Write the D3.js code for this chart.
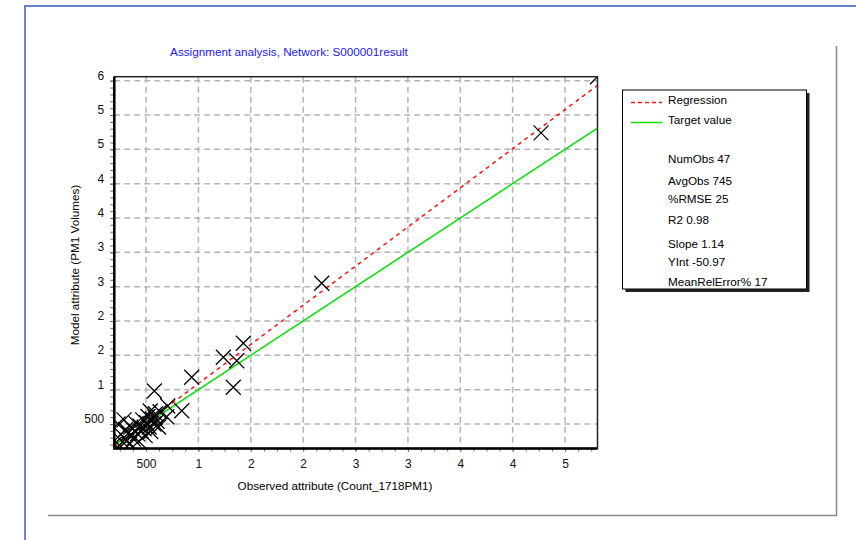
<!DOCTYPE html>
<html>
<head>
<meta charset="utf-8">
<script src="https://cdn.jsdelivr.net/npm/d3@7"></script>
<style>
  body { margin: 0; background: #fff; }
  svg { display: block; font-family: "Liberation Sans", Arial, sans-serif; }
</style>
</head>
<body>
<div id="chart"></div>
<script>
// observed / modelled volumes, one entry per observation
let obsValues = [
  4810, 4271, 2177, 1429, 1238, 1366, 1333, 936, 579, 841, 707, 697, 634, 586,
  197, 215, 232, 248, 260, 275, 290, 305, 318, 330, 342, 355, 368, 380, 392,
  405, 418, 430, 442, 455, 468, 480, 492, 505, 518, 530, 545, 560, 575, 590,
  605, 620, 540
]
let modelValues = [
  5558, 4740, 2549, 1675, 1471, 1422, 1034, 1180, 980, 693, 762, 606, 679, 597,
  205, 143, 500, 190, 350, 240, 560, 420, 260, 365, 205, 455, 330, 280, 400,
  505, 360, 250, 470, 395, 560, 430, 330, 520, 610, 455, 390, 575, 500, 650,
  540, 455, 690
]

let xTickValues = [500, 1000, 1500, 2000, 2500, 3000, 3500, 4000, 4500]
let xTickLabels = ['500', '1', '2', '2', '3', '3', '4', '4', '5']
let yTickValues = [500, 1000, 1500, 2000, 2500, 3000, 3500, 4000, 4500, 5000, 5500]
let yTickLabels = ['500', '1', '2', '2', '3', '3', '4', '4', '5', '5', '6']

let xDomain = [197, 4810]
let yDomain = [143, 5558]

let regSlope = 1.14
let regIntercept = -50.97

let legendItems = ['Regression', 'Target value']
let statLines = [
  'NumObs 47', 'AvgObs 745', '%RMSE 25', 'R2 0.98',
  'Slope 1.14', 'YInt -50.97', 'MeanRelError% 17'
]

let width = 856
let height = 540
let plot = { left: 114.3, right: 597.5, top: 76.7, bottom: 448.5 }
let fontSize = 11.7

let svg = d3.select('#chart')
  .append('svg')
  .attr('width', width)
  .attr('height', height)

// outer blue window border and grey panel edge
svg.append('rect')
  .attr('x', 25).attr('y', 6)
  .attr('width', 900).attr('height', 600)
  .attr('fill', 'none')
  .attr('stroke', '#6b80d2')
  .attr('stroke-width', 2)

svg.append('path')
  .attr('d', 'M48,515.5 H836.5 V46')
  .attr('fill', 'none')
  .attr('stroke', '#8a8a8a')
  .attr('stroke-width', 1.5)

svg.append('text')
  .attr('x', 289)
  .attr('y', 56)
  .attr('text-anchor', 'middle')
  .attr('font-size', fontSize)
  .attr('fill', '#2020f0')
  .text('Assignment analysis, Network: S000001result')

let xPositionScale = d3.scaleLinear().domain(xDomain).range([plot.left, plot.right])
let yPositionScale = d3.scaleLinear().domain(yDomain).range([plot.bottom, plot.top])

svg.append('clipPath')
  .attr('id', 'plot-clip')
  .append('rect')
  .attr('x', plot.left)
  .attr('y', plot.top)
  .attr('width', plot.right - plot.left)
  .attr('height', plot.bottom - plot.top)

// grid
let grid = svg.append('g')
  .attr('stroke', '#b4b4b4')
  .attr('stroke-width', 1.5)
  .attr('stroke-dasharray', '6,4')

grid.selectAll('.vgrid')
  .data(xTickValues)
  .enter()
  .append('line')
  .attr('x1', d => xPositionScale(d))
  .attr('x2', d => xPositionScale(d))
  .attr('y1', plot.top)
  .attr('y2', plot.bottom)

grid.selectAll('.hgrid')
  .data(yTickValues)
  .enter()
  .append('line')
  .attr('x1', plot.left)
  .attr('x2', plot.right)
  .attr('y1', d => yPositionScale(d))
  .attr('y2', d => yPositionScale(d))

// axes
let xMinor = d3.range(250, 4810, 125)
let yMinor = d3.range(200, 5558, 100)

let xAxis = d3.axisBottom(xPositionScale)
  .tickValues(xTickValues)
  .tickFormat((d, i) => xTickLabels[i])
  .tickSize(3)
  .tickPadding(7.5)

svg.append('g')
  .attr('class', 'axis x-axis')
  .attr('transform', `translate(0,${plot.bottom})`)
  .call(d3.axisBottom(xPositionScale).tickValues(xMinor).tickFormat('').tickSize(3))
  .call(g => g.select('.domain').remove())

svg.append('g')
  .attr('class', 'axis x-axis')
  .attr('transform', `translate(0,${plot.bottom})`)
  .call(xAxis)
  .call(g => g.select('.domain').remove())

let yAxis = d3.axisLeft(yPositionScale)
  .tickValues(yTickValues)
  .tickFormat((d, i) => yTickLabels[i])
  .tickSize(4)
  .tickPadding(6)

svg.append('g')
  .attr('class', 'axis y-axis')
  .attr('transform', `translate(${plot.left},0)`)
  .call(d3.axisLeft(yPositionScale).tickValues(yMinor).tickFormat('').tickSize(4))
  .call(g => g.select('.domain').remove())

svg.append('g')
  .attr('class', 'axis y-axis')
  .attr('transform', `translate(${plot.left},0)`)
  .call(yAxis)
  .call(g => g.select('.domain').remove())
  .selectAll('text')
  .attr('dy', '-0.12em')

svg.selectAll('.axis line').attr('stroke', '#666')
svg.selectAll('.axis text')
  .attr('font-size', 12)
  .attr('font-family', '"Liberation Sans", Arial, sans-serif')
  .attr('fill', '#111')

svg.append('text')
  .attr('x', 335)
  .attr('y', 490)
  .attr('text-anchor', 'middle')
  .attr('font-size', fontSize)
  .text('Observed attribute (Count_1718PM1)')

svg.append('text')
  .attr('transform', `translate(79,265) rotate(-90)`)
  .attr('text-anchor', 'middle')
  .attr('font-size', fontSize)
  .text('Model attribute (PM1 Volumes)')

// lines and points
let inner = svg.append('g').attr('clip-path', 'url(#plot-clip)')

let line = d3.line()
  .x(d => xPositionScale(d[0]))
  .y(d => yPositionScale(d[1]))

inner.append('path')
  .datum(xDomain.map(v => [v, v]))
  .attr('d', line)
  .attr('fill', 'none')
  .attr('stroke', '#00e000')
  .attr('stroke-width', 1.5)

inner.append('path')
  .datum(xDomain.map(v => [v, regSlope * v + regIntercept]))
  .attr('d', line)
  .attr('fill', 'none')
  .attr('stroke', '#ff1010')
  .attr('stroke-width', 1.5)
  .attr('stroke-dasharray', '4,4')

let points = obsValues.map((d, i) => ({ obs: d, model: modelValues[i] }))
let s = 7.5

inner.selectAll('.point')
  .data(points)
  .enter()
  .append('path')
  .attr('class', 'point')
  .attr('d', d => {
    let cx = xPositionScale(d.obs)
    let cy = yPositionScale(d.model)
    return `M${cx - s},${cy - s}L${cx + s},${cy + s}M${cx - s},${cy + s}L${cx + s},${cy - s}`
  })
  .attr('fill', 'none')
  .attr('stroke', '#000')
  .attr('stroke-width', 1.3)

// plot frame
svg.append('rect')
  .attr('x', plot.left)
  .attr('y', plot.top)
  .attr('width', plot.right - plot.left)
  .attr('height', plot.bottom - plot.top)
  .attr('fill', 'none')
  .attr('stroke', '#222')
  .attr('stroke-width', 1.5)

svg.append('path')
  .attr('d', `M${plot.left},${plot.top} V${plot.bottom} H${plot.right}`)
  .attr('fill', 'none')
  .attr('stroke', '#000')
  .attr('stroke-width', 2.5)

// legend box
let legend = svg.append('g')
legend.append('rect')
  .attr('x', 625.5).attr('y', 93)
  .attr('width', 184).attr('height', 199)
  .attr('fill', '#222')
legend.append('rect')
  .attr('x', 622.5).attr('y', 90)
  .attr('width', 184).attr('height', 199)
  .attr('fill', '#fff')
  .attr('stroke', '#000')
  .attr('stroke-width', 1)

legend.append('line')
  .attr('x1', 631).attr('x2', 662)
  .attr('y1', 102.5).attr('y2', 102.5)
  .attr('stroke', '#ff1010')
  .attr('stroke-width', 1.5)
  .attr('stroke-dasharray', '4,3')
legend.append('line')
  .attr('x1', 631).attr('x2', 662)
  .attr('y1', 122.5).attr('y2', 122.5)
  .attr('stroke', '#00e000')
  .attr('stroke-width', 1.5)

legend.selectAll('.legend-label')
  .data(legendItems)
  .enter()
  .append('text')
  .attr('x', 668)
  .attr('y', (d, i) => 103.5 + i * 20)
  .attr('font-size', fontSize)
  .text(d => d)

let statY = [158.3, 180.7, 198.3, 220, 243.3, 261.7, 281.7]
legend.selectAll('.stat')
  .data(statLines)
  .enter()
  .append('text')
  .attr('x', 668)
  .attr('y', (d, i) => statY[i] + 4.2)
  .attr('font-size', fontSize)
  .text(d => d)
</script>
</body>
</html>
